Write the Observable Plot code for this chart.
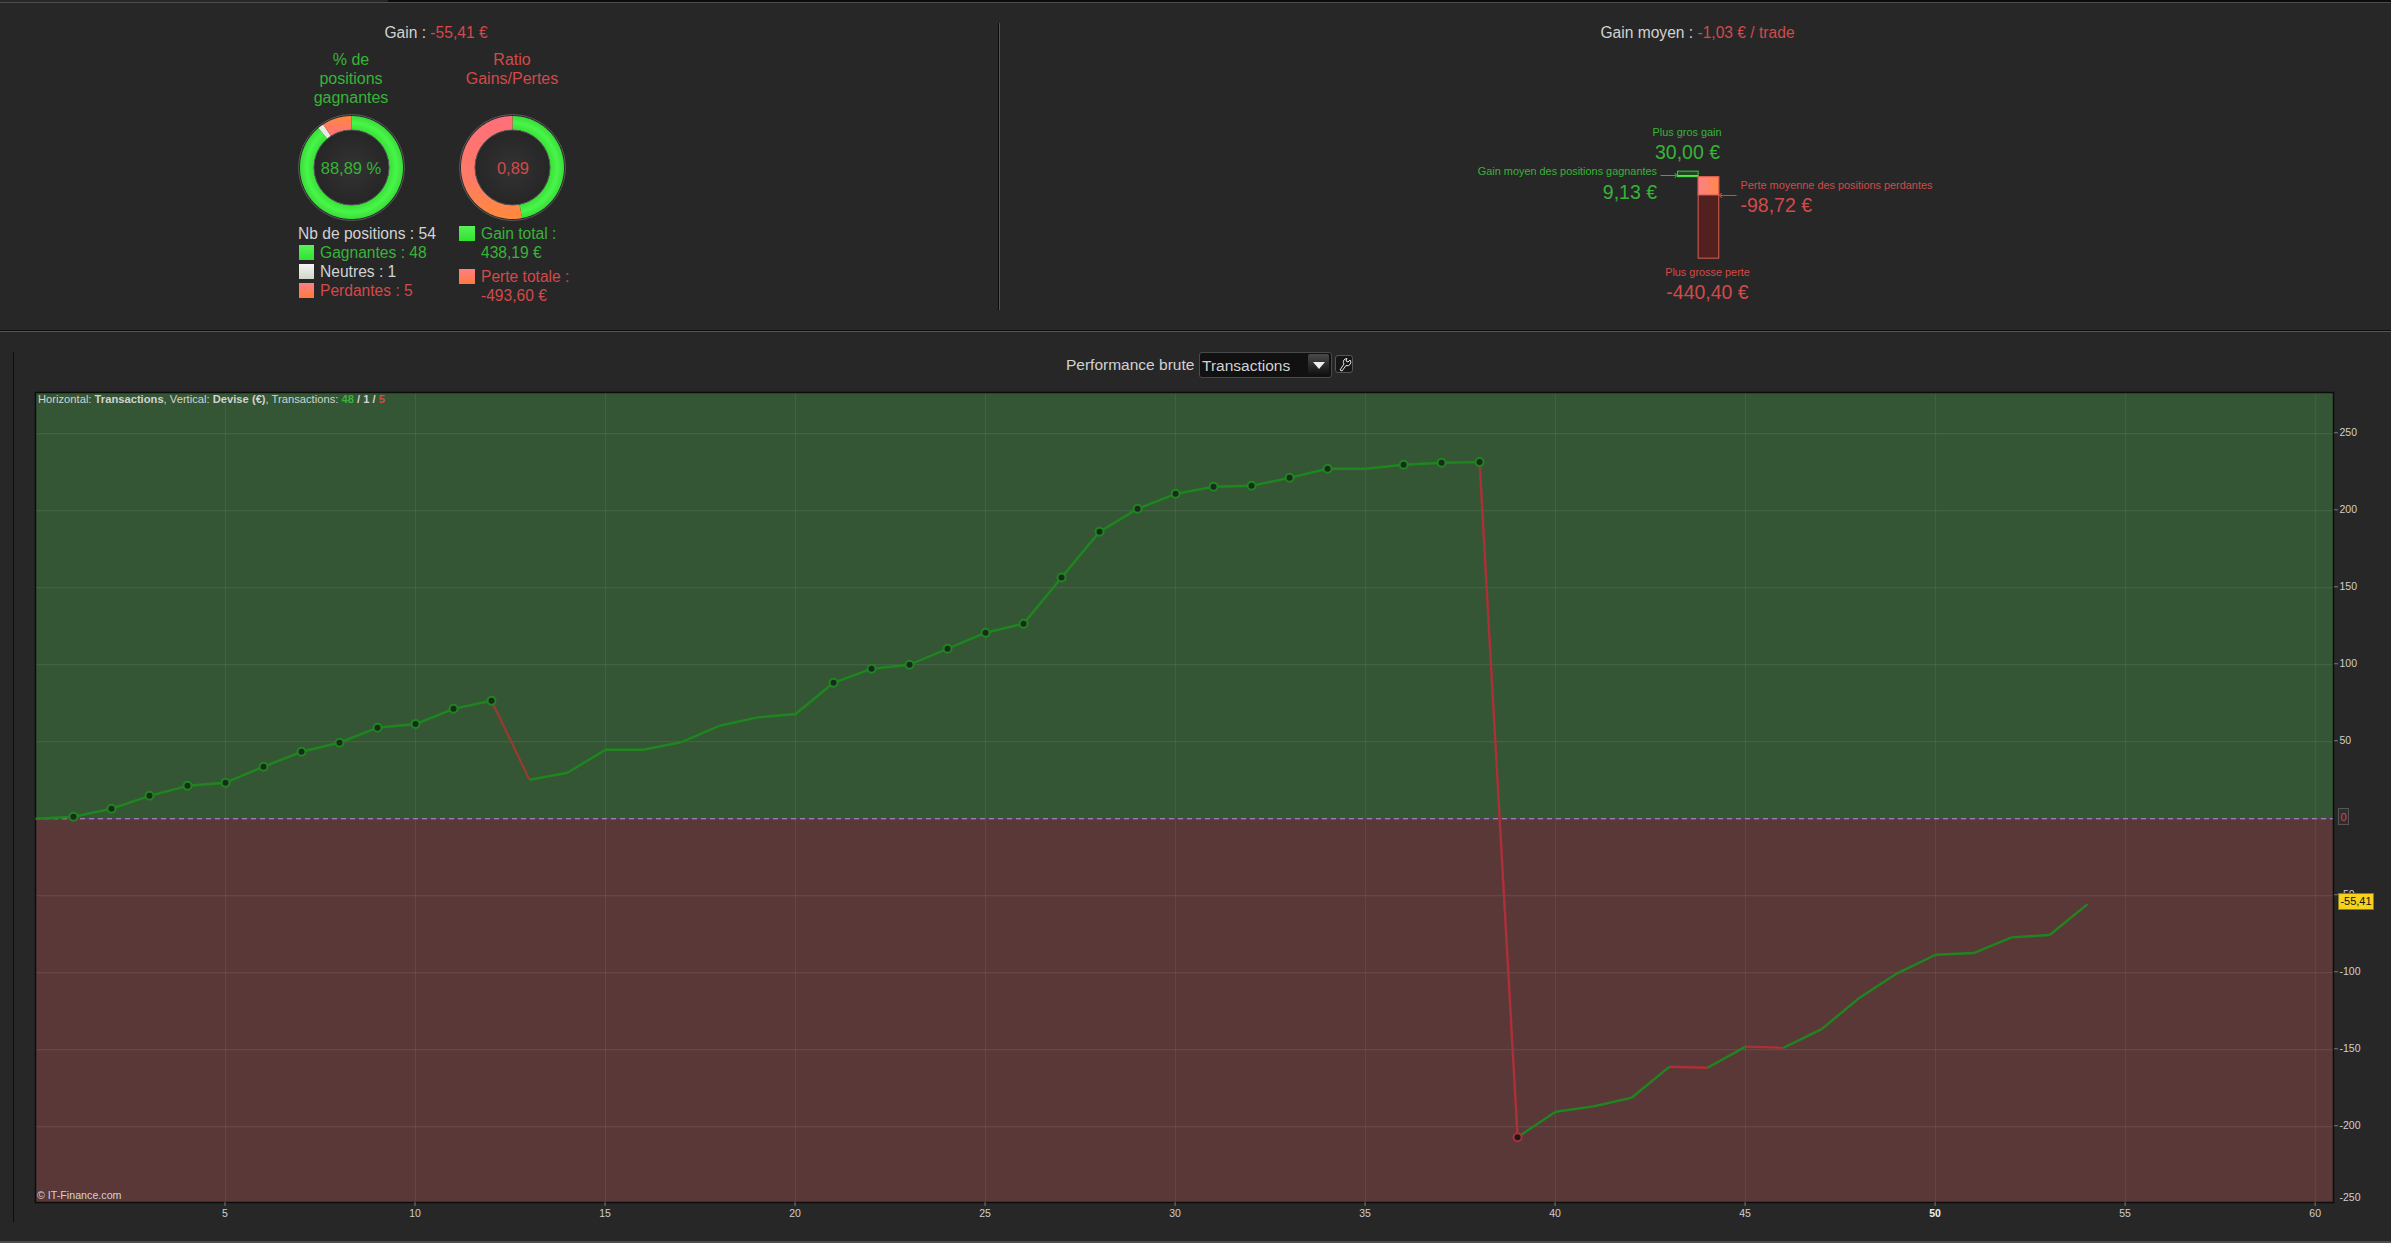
<!DOCTYPE html>
<html lang="fr">
<head>
<meta charset="utf-8">
<title>Performance brute</title>
<script src="https://cdn.jsdelivr.net/npm/d3@7"></script>
<script src="https://cdn.jsdelivr.net/npm/@observablehq/plot@0.6"></script>
<style>
  html, body { margin: 0; padding: 0; background: #272727; }
  #page { position: relative; width: 2391px; height: 1243px; overflow: hidden; background: #272727;
          font-family: "Liberation Sans", Arial, sans-serif; }
  #page > svg, .abs { position: absolute; }
  .t { position: absolute; white-space: nowrap; line-height: 1; }
  .g { color: #37b437; } .r { color: #d24a4a; } .w { color: #d2d2d2; }
  .sw { position: absolute; width: 15px; height: 15px; box-sizing: border-box; }
</style>
</head>
<body>
<div id="page"></div>
<script>
// ---------- data ----------
const performance_ = [0, 1.3, 6.5, 14.9, 21.4, 23.4, 33.8, 43.5, 49.4, 59.1, 61.5, 71.4, 76.6, 25.3, 29.9, 44.8, 44.8, 49.8, 60.4, 65.8, 68, 88.3, 97.4, 100, 110.4, 120.8, 126.6, 156.7, 186.4, 201.3, 211, 215.6, 216.2, 221.4, 227.3, 227.3, 229.9, 231.2, 231.6, -206.8, -190.3, -186.8, -181.2, -161, -161.7, -148, -148.7, -136.6, -116.2, -100.2, -88.3, -87.2, -77, -75.5, -55.41];
const markedWins = [1, 2, 3, 4, 5, 6, 7, 8, 9, 10, 11, 12, 21, 22, 23, 24, 25, 26, 27, 28, 29, 30, 31, 32, 33, 34, 36, 37, 38];
const markedLosses = [39];
const xTicks = [5, 10, 15, 20, 25, 30, 35, 40, 45, 50, 55, 60];
const yTicks = [250, 200, 150, 100, 50, -50, -100, -150, -200];
const positionCounts = [48, 1, 5];
const totals = [438.19, 493.60];
const gainBars = [30.00, 9.13];
const lossBars = [-440.40, -98.72];

const page = document.getElementById("page");

function label(text, x, y, cls, size, align = "left") {
  const el = document.createElement("div");
  el.className = "t " + cls;
  el.innerHTML = text;
  el.style.left = x + "px";
  el.style.top = y + "px";
  el.style.fontSize = size + "px";
  const tx = align === "center" ? "-50%" : align === "right" ? "-100%" : "0";
  el.style.transform = `translate(${tx},-50%)`;
  page.appendChild(el);
  return el;
}
function box(x, y, w, h, css) {
  const el = document.createElement("div");
  el.className = "abs";
  el.style.cssText = `left:${x}px;top:${y}px;width:${w}px;height:${h}px;${css}`;
  page.appendChild(el);
  return el;
}
function svgDefs(markup) {
  return () => {
    const d = document.createElementNS("http://www.w3.org/2000/svg", "defs");
    d.innerHTML = markup;
    return d;
  };
}

// ---------- window furniture ----------
box(0, 2, 2391, 1, "background:#4c4c4c");
box(388, 0, 2003, 2, "background:#0c0c0c");
box(998, 23, 1, 287, "background:#0c0c0c");
box(999, 23, 1, 287, "background:#555");
box(0, 330, 2391, 1, "background:#0c0c0c");
box(0, 331, 2391, 1, "background:#555");
box(13, 352, 1, 870, "background:#0c0c0c");
box(0, 1241, 2391, 2, "background:#4c4c4c");

// ---------- donuts ----------
const swGreen = "linear-gradient(#58f258,#30e230)";
const swWhite = "linear-gradient(#f4f4f4,#d0d8c8)";
const swRed = "linear-gradient(#ff7f86,#ff7a3c)";

function donut(id, cx, cy, values, fills) {
  const total = d3.sum(values);
  const R = 1, r = 0.73;
  let acc = 0;
  const rings = values.map((v, i) => {
    const a0 = acc / total * 2 * Math.PI; acc += v;
    const a1 = acc / total * 2 * Math.PI;
    const n = Math.max(2, Math.ceil((a1 - a0) * 40));
    const angs = d3.range(n + 1).map(k => a0 + (a1 - a0) * k / n);
    const pts = [...angs.map(a => ({x: R * Math.sin(a), y: R * Math.cos(a)})),
                 ...angs.reverse().map(a => ({x: r * Math.sin(a), y: r * Math.cos(a)}))];
    return Plot.line(pts, {x: "x", y: "y", fill: fills[i], stroke: null, curve: "linear-closed"});
  });
  const size = 120;
  const plot = Plot.plot({
    width: size, height: size, margin: 0,
    x: {domain: [-size / 103, size / 103], axis: null},
    y: {domain: [-size / 103, size / 103], axis: null},
    style: {background: "transparent"},
    marks: [
      svgDefs(`
        <radialGradient id="${id}g" gradientUnits="userSpaceOnUse" cx="60" cy="60" r="52">
          <stop offset="0.72" stop-color="#36e036"/><stop offset="0.86" stop-color="#4af54a"/><stop offset="1" stop-color="#36dc36"/>
        </radialGradient>
        <linearGradient id="${id}sm" x1="0" y1="0" x2="0" y2="1"><stop offset="0" stop-color="#ff8a3c"/><stop offset="1" stop-color="#ff6f7f"/></linearGradient>
        <linearGradient id="${id}lg" x1="0" y1="0" x2="0" y2="1"><stop offset="0" stop-color="#ff6f7a"/><stop offset="0.6" stop-color="#ff7a66"/><stop offset="1" stop-color="#ff8a3c"/></linearGradient>
        <radialGradient id="${id}c" cx="0.5" cy="0.5" r="0.5"><stop offset="0" stop-color="#333"/><stop offset="1" stop-color="#262626"/></radialGradient>`),
      ...rings,
      Plot.dot([0], {x: 0, y: 0, r: 37.5, fill: `url(#${id}c)`, stroke: "#555", strokeWidth: 1}),
      Plot.dot([0], {x: 0, y: 0, r: 53, fill: "none", stroke: "#5a5a5a", strokeWidth: 1})
    ]
  });
  plot.style.left = (cx - size / 2) + "px";
  plot.style.top = (cy - size / 2) + "px";
  page.appendChild(plot);
}
donut("a", 350.5, 166.5, positionCounts, ["url(#ag)", "#e8ece0", "url(#asm)"]);
donut("b", 512, 166.5, totals, ["url(#bg)", "url(#blg)"]);

// ---------- left panel texts ----------
label('Gain : <span class="r">-55,41 €</span>', 436, 32.5, "w", 15.6, "center");
label("% de", 351, 59.5, "g", 16, "center");
label("positions", 351, 78.5, "g", 16, "center");
label("gagnantes", 351, 97.5, "g", 16, "center");
label("Ratio", 512, 59.5, "r", 16, "center");
label("Gains/Pertes", 512, 78.5, "r", 16, "center");
label("88,89 %", 351, 167.5, "g", 16.5, "center");
label("0,89", 513, 167.5, "r", 16.5, "center");
label("Nb de positions : 54", 298, 233.5, "w", 15.6);
label("Gagnantes : 48", 320, 252.5, "g", 15.6);
label("Neutres : 1", 320, 271.5, "w", 15.6);
label("Perdantes : 5", 320, 290.5, "r", 15.6);
label("Gain total :", 481, 233.5, "g", 15.6);
label("438,19 €", 481, 252.5, "g", 15.6);
label("Perte totale :", 481, 276.5, "r", 15.6);
label("-493,60 €", 481, 295.5, "r", 15.6);
[[298.5, 244.5, swGreen], [298.5, 263.5, swWhite], [298.5, 282.5, swRed], [459, 225.5, swGreen], [459, 268.5, swRed]].forEach(([x, y, bg]) => {
  const s = box(x, y, 15.5, 15.5, `background:${bg}`);
  s.classList.add("sw");
});

// ---------- right panel: gain / loss bars ----------
const barRows = [
  {i: 0, extreme: gainBars[0], mean: gainBars[1]},
  {i: 1, extreme: lossBars[0], mean: lossBars[1]}
];
const mini = Plot.plot({
  width: 90, height: 105, margin: 0,
  x: {domain: [-1.335, 3.03], axis: null},
  y: {domain: [-477.3, 90.3], axis: null},
  style: {background: "transparent"},
  marks: [
    svgDefs(`<linearGradient id="lossAvg" x1="0" y1="0" x2="1" y2="0"><stop offset="0" stop-color="#ff7f8a"/><stop offset="1" stop-color="#ff8a48"/></linearGradient>`),
    Plot.rect(barRows.slice(0, 1), {x1: "i", x2: d => d.i + 1, y1: 0, y2: "extreme", fill: "#1c4a1c", stroke: "#3fc83f", strokeWidth: 1}),
    Plot.rect(barRows.slice(0, 1), {x1: "i", x2: d => d.i + 1, y1: 0, y2: "mean", fill: "#48f048"}),
    Plot.rect(barRows.slice(1), {x1: "i", x2: d => d.i + 1, y1: 0, y2: "extreme", fill: "#52201f", stroke: "#d95f50", strokeWidth: 1}),
    Plot.rect(barRows.slice(1), {x1: "i", x2: d => d.i + 1, y1: 0, y2: "mean", fill: "url(#lossAvg)", stroke: "#d95f50", strokeWidth: 1}),
    Plot.link(barRows.slice(0, 1), {x1: -0.85, x2: -0.1, y1: "mean", y2: "mean", stroke: "#37b437", strokeWidth: 1, markerEnd: "arrow"}),
    Plot.link(barRows.slice(1), {x1: 2.84, x2: 2.06, y1: "mean", y2: "mean", stroke: "#d24a4a", strokeWidth: 1, markerEnd: "arrow"})
  ]
});
mini.style.left = "1650px";
mini.style.top = "160px";
page.appendChild(mini);

label('Gain moyen : <span class="r">-1,03 € / trade</span>', 1697.5, 32.5, "w", 15.6, "center");
label("Plus gros gain", 1687, 131.5, "g", 10.9, "center");
label("30,00 €", 1687.5, 152.5, "g", 19.5, "center");
label("Gain moyen des positions gagnantes", 1657, 170.5, "g", 10.9, "right");
label("9,13 €", 1657, 193, "g", 19.5, "right");
label("Perte moyenne des positions perdantes", 1740.5, 184.5, "r", 10.9);
label("-98,72 €", 1740.5, 205.5, "r", 19.5);
label("Plus grosse perte", 1707.5, 271.5, "r", 10.9, "center");
label("-440,40 €", 1707.5, 292.5, "r", 19.5, "center");

// ---------- chart header ----------
label("Performance brute", 1066, 365, "w", 15.5);
box(1198.5, 352, 133, 26, "background:#111;border:1px solid #4a4a4a;border-radius:3px;box-sizing:border-box");
label("Transactions", 1202, 365.5, "w", 15.5);
box(1308, 354, 21, 22, "background:linear-gradient(#4a4a4a,#0e0e0e);border-radius:2px");
box(1313, 362, 0, 0, "border-left:6px solid transparent;border-right:6px solid transparent;border-top:7px solid #eee");
box(1335, 355, 18, 18, "background:#161616;border:1px solid #555;border-radius:3px;box-sizing:border-box");
const wrench = document.createElementNS("http://www.w3.org/2000/svg", "svg");
wrench.setAttribute("viewBox", "0 0 18 18");
wrench.setAttribute("width", 18);
wrench.setAttribute("height", 18);
wrench.style.left = "1335px";
wrench.style.top = "355px";
wrench.innerHTML = '<path d="M5 15 L9 9 A3.5 3.5 0 0 1 10 4 L12 3.5 L11 6 L13 7 L15 5 A3.5 3.5 0 0 1 11 10.5 L7 16 Z" fill="none" stroke="#e8e8e8" stroke-width="1"/>';
page.appendChild(wrench);

// ---------- main chart ----------
const points = performance_.map((v, i) => ({i, v}));
const segments = d3.pairs(points).map(([a, b]) => ({x1: a.i, y1: a.v, x2: b.i, y2: b.v, loss: b.v < a.v}));
const xMax = 60.47, yMax = 276.8, yMin = -249.2;
const axisStyle = {tickSize: 4, fontSize: 10.5, fill: "#cfcfcf", stroke: "#777", tickFormat: d => `${d}`};

const chart = Plot.plot({
  width: 2391, height: 911,
  marginLeft: 35, marginRight: 58, marginTop: 60, marginBottom: 41,
  x: {domain: [0, xMax]},
  y: {domain: [yMin, yMax]},
  style: {background: "transparent", fontFamily: '"Liberation Sans", Arial, sans-serif'},
  marks: [
    Plot.rect([0], {x1: 0, x2: xMax, y1: 0, y2: yMax, fill: "#345634"}),
    Plot.rect([0], {x1: 0, x2: xMax, y1: yMin, y2: 0, fill: "#5a3838"}),
    Plot.gridX({ticks: xTicks, stroke: "#fff", strokeOpacity: 0.07}),
    Plot.gridY({ticks: yTicks, stroke: "#fff", strokeOpacity: 0.1}),
    Plot.ruleY([0], {stroke: "#4f4a86", strokeWidth: 1.2}),
    Plot.ruleY([0], {stroke: "#c08fb0", strokeWidth: 1, strokeDasharray: "5,4"}),
    Plot.frame({stroke: "#0c0c0c", strokeWidth: 1.5}),
    Plot.link(segments, {x1: "x1", y1: "y1", x2: "x2", y2: "y2", strokeWidth: 2.4, markerEnd: null,
      stroke: d => d.loss ? (d.y2 < 0 ? "#ad3038" : "#953b33") : "#1f861f"}),
    Plot.dot(markedWins, {x: d => d, y: d => performance_[d], r: 4, fill: "#1a2a1e", stroke: "#1f861f", strokeWidth: 2}),
    Plot.dot(markedLosses, {x: d => d, y: d => performance_[d], r: 4, fill: "#1a1a1e", stroke: "#ad3038", strokeWidth: 2}),
    Plot.axisX({...axisStyle, ticks: xTicks.filter(d => d !== 50), tickPadding: 3, dx: -0.5, label: null}),
    Plot.axisX({...axisStyle, ticks: [50], fontWeight: "bold", fill: "#eee", tickPadding: 3, dx: -0.5, label: null}),
    Plot.axisY({...axisStyle, anchor: "right", ticks: yTicks, tickPadding: 2, dy: -1, label: null}),
    Plot.axisY({...axisStyle, anchor: "right", ticks: [-250], tickSize: 0, tickPadding: 6, dy: -6, label: null})
  ]
});
chart.style.left = "0px";
chart.style.top = "332px";
page.appendChild(chart);

// ---------- chart annotations, placed through the chart's own scale ----------
const yScale = chart.scale("y");
const zeroY = 332 + yScale.apply(0);
const lastY = 332 + yScale.apply(performance_[performance_.length - 1]);
box(2338, zeroY - 10, 11, 17, "background:#2e2e2e;border:1px solid #555;box-sizing:border-box");
label("0", 2343.5, zeroY - 1.5, "r", 11, "center");
box(2338, lastY - 11, 36, 17, "background:#f6d21c;border:1px solid #8a7a20;box-sizing:border-box");
const tag = label("-55,41", 2356, lastY - 2.5, "", 11, "center");
tag.style.color = "#111";
label('Horizontal: <b>Transactions</b>, Vertical: <b>Devise (€)</b>, Transactions: <span style="color:#37b437;font-weight:bold">48</span> <b>/ 1 /</b> <span style="color:#d24a4a;font-weight:bold">5</span>', 38, 400, "w", 11.2);
label("© IT-Finance.com", 37, 1195, "w", 10.7);
</script>
</body>
</html>
